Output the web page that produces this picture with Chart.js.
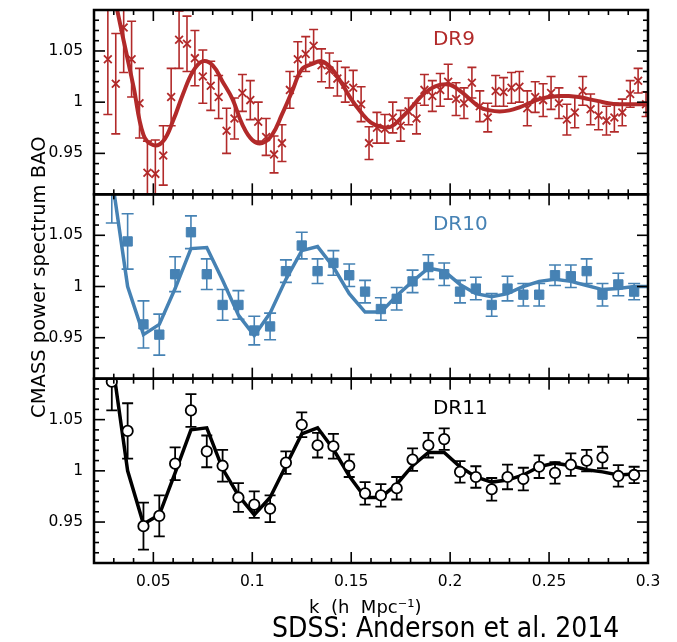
<!DOCTYPE html>
<html>
<head>
<meta charset="utf-8">
<script src="https://cdn.jsdelivr.net/npm/chart.js@4.4.1/dist/chart.umd.min.js"></script>
<style>
  html, body { margin: 0; padding: 0; background: #fff; }
  canvas { display: block; }
</style>
</head>
<body>
<canvas id="bao" width="677" height="642"></canvas>
<script>
// DR9: measured band powers (ratio to no-wiggle), with 1-sigma errors
const kDR9 = [0.027, 0.031, 0.035, 0.039, 0.043, 0.047, 0.051, 0.055, 0.059, 0.063,
  0.067, 0.071, 0.075, 0.079, 0.083, 0.087, 0.091, 0.095, 0.099, 0.103,
  0.107, 0.111, 0.115, 0.119, 0.123, 0.127, 0.131, 0.135, 0.139, 0.143,
  0.147, 0.151, 0.155, 0.159, 0.163, 0.167, 0.171, 0.175, 0.179, 0.183,
  0.187, 0.191, 0.195, 0.199, 0.203, 0.207, 0.211, 0.215, 0.219, 0.223,
  0.227, 0.231, 0.235, 0.239, 0.243, 0.247, 0.251, 0.255, 0.259, 0.263,
  0.267, 0.271, 0.275, 0.279, 0.283, 0.287, 0.291, 0.295, 0.299];
const pkDR9 = [1.042, 1.018, 1.073, 1.042, 0.999, 0.931, 0.930, 0.948, 1.005, 1.061,
  1.057, 1.043, 1.025, 1.016, 1.005, 0.972, 0.984, 1.009, 1.002, 0.981,
  0.966, 0.949, 0.960, 1.012, 1.042, 1.047, 1.055, 1.036, 1.031, 1.023,
  1.017, 1.014, 0.998, 0.960, 0.975, 0.974, 0.985, 0.977, 0.991, 0.984,
  1.012, 1.006, 1.012, 1.020, 1.003, 0.999, 1.019, 0.996, 0.985, 1.011,
  1.010, 1.014, 1.015, 0.994, 1.005, 1.002, 1.009, 0.999, 0.983, 0.990,
  1.011, 0.993, 0.987, 0.982, 0.985, 0.990, 1.008, 1.021, 0.998];
const errDR9 = [0.054, 0.049, 0.044, 0.037, 0.034, 0.031, 0.033, 0.029, 0.028, 0.028,
  0.027, 0.027, 0.026, 0.024, 0.021, 0.022, 0.020, 0.018, 0.019, 0.019,
  0.018, 0.018, 0.018, 0.018, 0.017, 0.017, 0.016, 0.016, 0.017, 0.017,
  0.017, 0.017, 0.017, 0.016, 0.015, 0.014, 0.015, 0.015, 0.013, 0.015,
  0.015, 0.015, 0.016, 0.017, 0.016, 0.015, 0.015, 0.015, 0.014, 0.015,
  0.014, 0.015, 0.015, 0.017, 0.015, 0.016, 0.016, 0.015, 0.015, 0.015,
  0.014, 0.015, 0.014, 0.014, 0.014, 0.013, 0.013, 0.012, 0.012];
const kModelDR9 = [0.029, 0.035, 0.040, 0.045, 0.050, 0.055, 0.060, 0.065, 0.070, 0.075,
  0.080, 0.085, 0.090, 0.095, 0.100, 0.105, 0.110, 0.115, 0.120, 0.125,
  0.130, 0.135, 0.140, 0.145, 0.150, 0.155, 0.160, 0.165, 0.170, 0.175,
  0.180, 0.185, 0.190, 0.195, 0.200, 0.205, 0.210, 0.215, 0.220, 0.225,
  0.230, 0.235, 0.240, 0.245, 0.250, 0.255, 0.260, 0.265, 0.270, 0.275,
  0.280, 0.285, 0.290, 0.295, 0.300];
const modelDR9 = [1.115, 1.060, 1.015, 0.968, 0.958, 0.962, 0.982, 1.008, 1.030, 1.040,
  1.036, 1.020, 1.003, 0.978, 0.963, 0.960, 0.968, 0.988, 1.010, 1.032,
  1.037, 1.040, 1.033, 1.019, 1.003, 0.990, 0.980, 0.976, 0.976, 0.984,
  0.994, 1.005, 1.013, 1.017, 1.017, 1.011, 1.003, 0.995, 0.992, 0.991,
  0.992, 0.995, 0.999, 1.003, 1.005, 1.006, 1.006, 1.005, 1.003, 1.001,
  0.999, 0.998, 0.998, 0.998, 0.998];

// DR10 and DR11 share the same k bins
const kBins = [0.029, 0.037, 0.045, 0.053, 0.061, 0.069, 0.077, 0.085, 0.093, 0.101,
  0.109, 0.117, 0.125, 0.133, 0.141, 0.149, 0.157, 0.165, 0.173, 0.181,
  0.189, 0.197, 0.205, 0.213, 0.221, 0.229, 0.237, 0.245, 0.253, 0.261,
  0.269, 0.277, 0.285, 0.293];
const pkDR10 = [1.100, 1.044, 0.963, 0.953, 1.012, 1.053, 1.012, 0.982, 0.982, 0.957,
  0.961, 1.015, 1.040, 1.015, 1.023, 1.011, 0.995, 0.978, 0.988, 1.005,
  1.019, 1.012, 0.995, 0.998, 0.982, 0.998, 0.992, 0.992, 1.011, 1.010,
  1.015, 0.992, 1.002, 0.995];
const errDR10 = [0.038, 0.027, 0.023, 0.020, 0.017, 0.016, 0.015, 0.015, 0.014, 0.014,
  0.013, 0.011, 0.013, 0.012, 0.012, 0.011, 0.011, 0.011, 0.011, 0.011,
  0.012, 0.011, 0.011, 0.011, 0.011, 0.012, 0.011, 0.011, 0.010, 0.011,
  0.012, 0.011, 0.011, 0.008];
const kModelDR10 = [0.029, 0.037, 0.045, 0.053, 0.061, 0.069, 0.077, 0.085, 0.093, 0.101,
  0.109, 0.117, 0.125, 0.133, 0.141, 0.149, 0.157, 0.165, 0.173, 0.181,
  0.189, 0.197, 0.205, 0.213, 0.221, 0.229, 0.237, 0.245, 0.253, 0.261,
  0.269, 0.277, 0.285, 0.293, 0.300];
const modelDR10 = [1.107, 1.000, 0.953, 0.963, 0.998, 1.037, 1.038, 1.006, 0.972, 0.952,
  0.974, 1.007, 1.035, 1.039, 1.019, 0.993, 0.975, 0.975, 0.991, 1.005,
  1.018, 1.015, 1.002, 0.993, 0.990, 0.993, 1.000, 1.005, 1.007, 1.005,
  1.001, 0.997, 0.998, 1.000, 1.000];

const pkDR11 = [1.087, 1.039, 0.946, 0.956, 1.007, 1.059, 1.019, 1.005, 0.974, 0.967,
  0.963, 1.008, 1.045, 1.025, 1.024, 1.005, 0.978, 0.976, 0.983, 1.011,
  1.025, 1.031, 0.999, 0.994, 0.982, 0.994, 0.992, 1.004, 0.998, 1.006,
  1.010, 1.013, 0.995, 0.996];
const errDR11 = [0.028, 0.027, 0.023, 0.020, 0.016, 0.016, 0.0155, 0.0155, 0.014, 0.013,
  0.013, 0.011, 0.012, 0.012, 0.012, 0.011, 0.011, 0.011, 0.011, 0.011,
  0.012, 0.0105, 0.0105, 0.0105, 0.011, 0.012, 0.011, 0.011, 0.0105, 0.011,
  0.0105, 0.0105, 0.0105, 0.008];
const modelDR11 = [1.110, 1.000, 0.948, 0.957, 0.998, 1.040, 1.042, 1.002, 0.976, 0.957,
  0.974, 1.005, 1.036, 1.042, 1.021, 0.995, 0.974, 0.974, 0.987, 1.005,
  1.018, 1.018, 1.004, 0.994, 0.989, 0.991, 0.996, 1.004, 1.0075, 1.005,
  1.001, 0.999, 0.996, 0.997];

// axis ticks
const xMajorTicks = [0.05, 0.1, 0.15, 0.2, 0.25, 0.3];
const xMinorTicks = [0.02, 0.03, 0.04, 0.05, 0.06, 0.07, 0.08, 0.09, 0.1, 0.11,
  0.12, 0.13, 0.14, 0.15, 0.16, 0.17, 0.18, 0.19, 0.2, 0.21,
  0.22, 0.23, 0.24, 0.25, 0.26, 0.27, 0.28, 0.29, 0.3];
const yMajorTicks = [0.95, 1, 1.05];
const yMinorTicks = [0.92, 0.93, 0.94, 0.95, 0.96, 0.97, 0.98, 0.99, 1, 1.01,
  1.02, 1.03, 1.04, 1.05, 1.06, 1.07, 1.08];

const panelNames = ["DR9", "DR10", "DR11"];
const RED = "#b22a2a";
const BLUE = "#4682b4";
const FONT = "'DejaVu Sans', sans-serif";

Chart.defaults.font.family = FONT;
Chart.defaults.color = "#000";

function pts(xs, ys) {
  return xs.map((x, i) => ({ x: x, y: ys[i] }));
}

// clip every dataset to its own panel and draw the error bars under the markers
const panelClip = {
  id: "panelClip",
  beforeDatasetDraw(chart, args) {
    const ctx = chart.ctx;
    const ds = chart.data.datasets[args.index];
    const xs = chart.scales.x;
    const ys = chart.scales[ds.yAxisID];
    ctx.save();
    ctx.beginPath();
    ctx.rect(xs.left, ys.top, xs.right - xs.left, ys.bottom - ys.top);
    ctx.clip();
    if (ds.errors) {
      ctx.strokeStyle = ds.borderColor;
      ctx.lineWidth = ds.errorWidth;
      ds.data.forEach((p, i) => {
        const x = xs.getPixelForValue(p.x);
        const lo = ys.getPixelForValue(p.y - ds.errors[i]);
        const hi = ys.getPixelForValue(p.y + ds.errors[i]);
        const c = ds.capHalf;
        ctx.beginPath();
        ctx.moveTo(x, lo); ctx.lineTo(x, hi);
        ctx.moveTo(x - c, lo); ctx.lineTo(x + c, lo);
        ctx.moveTo(x - c, hi); ctx.lineTo(x + c, hi);
        ctx.stroke();
      });
    }
  },
  afterDatasetDraw(chart) {
    chart.ctx.restore();
  }
};

// boxes with inward ticks on all four sides, panel names, credit line
const frames = {
  id: "frames",
  afterDraw(chart) {
    const ctx = chart.ctx;
    const xs = chart.scales.x;
    const panels = [chart.scales.yDR9, chart.scales.yDR10, chart.scales.yDR11];
    const colors = [RED, BLUE, "#000"];
    const w = 1.6;
    ctx.save();
    panels.forEach((ys, n) => {
      const l = xs.left, r = xs.right, t = ys.top, b = ys.bottom;
      ctx.fillStyle = "#000";
      xMinorTicks.forEach((v) => {
        const x = xs.getPixelForValue(v);
        const len = xMajorTicks.indexOf(v) >= 0 ? 11 : 5;
        ctx.fillRect(x - w / 2, b - len, w, len);
        ctx.fillRect(x - w / 2, t, w, len);
      });
      yMinorTicks.forEach((v) => {
        const y = ys.getPixelForValue(v);
        const len = yMajorTicks.indexOf(v) >= 0 ? 11 : 5;
        ctx.fillRect(l, y - w / 2, len, w);
        ctx.fillRect(r - len, y - w / 2, len, w);
      });
      ctx.strokeStyle = "#000";
      ctx.lineWidth = 2.5;
      ctx.strokeRect(l, t, r - l, b - t);

      ctx.fillStyle = colors[n];
      ctx.font = "20px " + FONT;
      ctx.textAlign = "left";
      ctx.textBaseline = "middle";
      ctx.fillText(panelNames[n], xs.getPixelForValue(0.1913), t + 30);
    });
    ctx.fillStyle = "#000";
    ctx.font = "28px 'DejaVu Sans Condensed', 'DejaVu Sans', sans-serif";
    ctx.textBaseline = "alphabetic";
    ctx.fillText("SDSS: Anderson et al. 2014", 272, 637);
    ctx.restore();
  }
};

function yAxis(title) {
  return {
    type: "linear",
    position: "left",
    stack: "panels",
    stackWeight: 1,
    min: 0.91,
    max: 1.09,
    grid: { display: false, drawTicks: false },
    border: { display: false },
    ticks: {
      padding: 11,
      font: { size: 15.5 },
      callback: (v) => String(v)
    },
    afterBuildTicks: (s) => { s.ticks = yMajorTicks.map((v) => ({ value: v })); },
    afterFit: (s) => {
      s.width = 94;
      s.paddingTop = 0;
      s.paddingBottom = 0;
    },
    title: title ? {
      display: true,
      text: title,
      font: { size: 19.5 },
      padding: { top: 28, bottom: 0 }
    } : { display: false }
  };
}

new Chart(document.getElementById("bao"), {
  type: "line",
  data: {
    datasets: [
      {
        label: "DR9",
        yAxisID: "yDR9",
        data: pts(kDR9, pkDR9),
        errors: errDR9,
        errorWidth: 1.6,
        capHalf: 4.5,
        showLine: false,
        borderColor: RED,
        backgroundColor: RED,
        pointStyle: "crossRot",
        pointRadius: 5.5,
        pointBorderWidth: 1.8,
        order: 0
      },
      {
        label: "DR9 model",
        yAxisID: "yDR9",
        data: pts(kModelDR9, modelDR9),
        borderColor: RED,
        borderWidth: 4,
        pointRadius: 0,
        tension: 0.4,
        order: 1
      },
      {
        label: "DR10",
        yAxisID: "yDR10",
        data: pts(kBins, pkDR10),
        errors: errDR10,
        errorWidth: 1.6,
        capHalf: 6,
        showLine: false,
        borderColor: BLUE,
        backgroundColor: BLUE,
        pointStyle: "rect",
        pointRadius: 6.6,
        pointBorderWidth: 1,
        order: 0
      },
      {
        label: "DR10 model",
        yAxisID: "yDR10",
        data: pts(kModelDR10, modelDR10),
        borderColor: BLUE,
        borderWidth: 3.5,
        pointRadius: 0,
        tension: 0,
        order: 1
      },
      {
        label: "DR11",
        yAxisID: "yDR11",
        data: pts(kBins, pkDR11),
        errors: errDR11,
        errorWidth: 1.8,
        capHalf: 5.5,
        showLine: false,
        borderColor: "#000",
        backgroundColor: "#fff",
        pointStyle: "circle",
        pointRadius: 5.2,
        pointBorderWidth: 1.8,
        order: 0
      },
      {
        label: "DR11 model",
        yAxisID: "yDR11",
        data: pts(kBins, modelDR11),
        borderColor: "#000",
        borderWidth: 3.5,
        pointRadius: 0,
        tension: 0,
        order: 1
      }
    ]
  },
  options: {
    responsive: false,
    animation: false,
    layout: { padding: { top: 10, right: 29, left: 0, bottom: 0 } },
    plugins: {
      legend: { display: false },
      tooltip: { enabled: false }
    },
    scales: {
      x: {
        type: "linear",
        min: 0.02,
        max: 0.3,
        grid: { display: false, drawTicks: false },
        border: { display: false },
        ticks: {
          padding: 10,
          maxRotation: 0,
          autoSkip: false,
          font: { size: 15.5 },
          callback: (v) => String(v)
        },
        afterBuildTicks: (s) => { s.ticks = xMajorTicks.map((v) => ({ value: v })); },
        afterFit: (s) => { s.height = 79; },
        title: {
          display: true,
          text: "k  (h  Mpc\u207b\u00b9)  ",
          font: { size: 18 },
          padding: { top: 0, bottom: 23 }
        }
      },
      yDR11: yAxis(null),
      yDR10: yAxis("   CMASS power spectrum BAO"),
      yDR9: yAxis(null)
    }
  },
  plugins: [panelClip, frames]
});
</script>
</body>
</html>
